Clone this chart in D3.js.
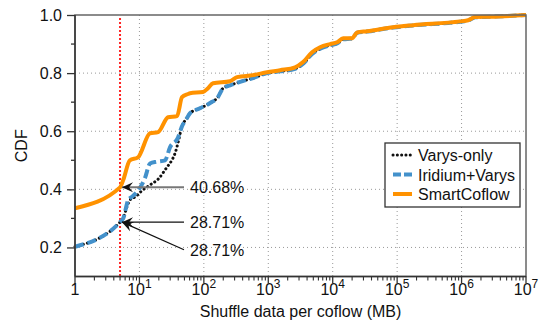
<!DOCTYPE html>
<html>
<head>
<meta charset="utf-8">
<script src="https://cdn.jsdelivr.net/npm/d3@7"></script>
<style>
  body { margin: 0; background: #fff; }
  text { font-family: "Liberation Sans", Arial, Helvetica, sans-serif; fill: #111; }
</style>
</head>
<body>
<svg class="chart" width="552" height="328"></svg>
<script>
// shuffle data per coflow (MB) vs CDF
var smartX = [1, 5, 5.6, 7.1, 9.5, 14.6, 19.5, 27.8, 38.4, 45.8, 56.9, 61, 97, 116, 139, 255, 328, 581, 957,
  1524, 2606, 3467, 4786, 6368, 9120, 11700, 14500, 20000, 23900, 34200, 86700, 177000, 951000, 1265000, 1626000, 2780000, 1e7];
var smartY = [0.335, 0.4068, 0.432, 0.50, 0.51, 0.593, 0.597, 0.648, 0.652, 0.717, 0.728, 0.731, 0.735, 0.748, 0.765, 0.772, 0.786, 0.793, 0.803,
  0.81, 0.82, 0.838, 0.872, 0.889, 0.90, 0.906, 0.92, 0.92, 0.94, 0.944, 0.958, 0.965, 0.978, 0.982, 0.993, 0.994, 1.0];

var iridiumX = [1, 5, 5.6, 6.7, 7.6, 9.6, 12.2, 14.6, 18.6, 25, 29.9, 39.7, 45.4, 54.2, 61, 87, 125, 166, 199, 255, 365, 581, 957,
  1524, 2606, 3467, 4786, 6368, 9120, 11700, 14500, 20000, 23900, 34200, 86700, 177000, 951000, 1265000, 1626000, 2780000, 1e7];
var iridiumY = [0.2025, 0.2871, 0.30, 0.363, 0.374, 0.397, 0.439, 0.489, 0.495, 0.50, 0.545, 0.578, 0.615, 0.644, 0.662, 0.679, 0.697, 0.718, 0.748, 0.758, 0.77, 0.783, 0.80,
  0.806, 0.815, 0.832, 0.866, 0.884, 0.896, 0.902, 0.916, 0.919, 0.939, 0.943, 0.957, 0.964, 0.977, 0.981, 0.992, 0.994, 1.0];

var varysX = [1, 5, 5.6, 6.4, 7.1, 8.6, 10.9, 14.6, 19.5, 26.5, 31.8, 35.7, 40.2, 45.4, 54.2, 61, 87, 125, 166, 199, 255, 365, 581, 957,
  1524, 2606, 3467, 4786, 6368, 9120, 11700, 14500, 20000, 23900, 34200, 86700, 177000, 951000, 1265000, 1626000, 2780000, 1e7];
var varysY = [0.2025, 0.2871, 0.30, 0.34, 0.363, 0.374, 0.395, 0.415, 0.435, 0.475, 0.50, 0.524, 0.565, 0.615, 0.644, 0.662, 0.679, 0.697, 0.718, 0.748, 0.758, 0.77, 0.783, 0.80,
  0.806, 0.815, 0.832, 0.866, 0.884, 0.896, 0.902, 0.916, 0.919, 0.939, 0.943, 0.957, 0.964, 0.977, 0.981, 0.992, 0.994, 1.0];

var yTicks = [0.2, 0.4, 0.6, 0.8, 1.0];
var yMinor = [0.3, 0.5, 0.7, 0.9];
var xDecades = [0, 1, 2, 3, 4, 5, 6, 7];
var cutoff = 5;
var notes = [
  {label: "40.68%", y: 0.4068, ty: 0.4068, color: "#777"},
  {label: "28.71%", y: 0.2871, ty: 0.2871, color: "#111"},
  {label: "28.71%", y: 0.2871, ty: 0.192, color: "#111"}
];
var legendNames = ["Varys-only", "Iridium+Varys", "SmartCoflow"];

var svg = d3.select(".chart");
var pl = 75, pr = 526, pt = 15, pb = 276.5;

var x = d3.scaleLog().domain([1, 1e7]).range([pl, pr]);
var y = d3.scaleLinear().domain([0.1, 1.0]).range([pb, pt]);

var defs = svg.append("defs");
defs.append("marker")
  .attr("id", "arrow")
  .attr("viewBox", "-12 -6 14 12")
  .attr("markerWidth", 14).attr("markerHeight", 12)
  .attr("refX", 0).attr("refY", 0)
  .attr("markerUnits", "userSpaceOnUse")
  .attr("orient", "auto")
  .append("path")
  .attr("d", "M0,0 L-11,-5 L-7,0 L-11,5 Z")
  .attr("fill", "#111");

// grid
var grid = svg.append("g").attr("stroke", "#999").attr("stroke-width", 1).attr("stroke-dasharray", "1,3");
grid.selectAll("line.gx").data(xDecades.slice(1, 7)).enter().append("line")
  .attr("x1", function(d) { return x(Math.pow(10, d)); })
  .attr("x2", function(d) { return x(Math.pow(10, d)); })
  .attr("y1", pt).attr("y2", pb);
grid.selectAll("line.gy").data(yTicks.slice(0, 4)).enter().append("line")
  .attr("x1", pl).attr("x2", pr)
  .attr("y1", function(d) { return y(d); })
  .attr("y2", function(d) { return y(d); });

// 5 MB cutoff
svg.append("line")
  .attr("x1", x(cutoff)).attr("x2", x(cutoff))
  .attr("y1", pt + 3).attr("y2", pb)
  .attr("stroke", "#f22").attr("stroke-width", 2).attr("stroke-dasharray", "2,2");

// curves
var line = d3.line()
  .x(function(d) { return x(d[0]); })
  .y(function(d) { return y(d[1]); })
  .curve(d3.curveMonotoneX);

svg.append("path")
  .datum(d3.zip(varysX, varysY))
  .attr("d", line).attr("fill", "none")
  .attr("stroke", "#111").attr("stroke-width", 3)
  .attr("stroke-linecap", "round").attr("stroke-dasharray", "0.1,4.2");

svg.append("path")
  .datum(d3.zip(iridiumX, iridiumY))
  .attr("d", line).attr("fill", "none")
  .attr("stroke", "#4391cb").attr("stroke-width", 4)
  .attr("stroke-dasharray", "9,4");

svg.append("path")
  .datum(d3.zip(smartX, smartY))
  .attr("d", line).attr("fill", "none")
  .attr("stroke", "#ff9200").attr("stroke-width", 4);

// annotations
notes.forEach(function(n) {
  svg.append("line")
    .attr("x1", 184).attr("y1", y(n.ty))
    .attr("x2", x(cutoff) + 2).attr("y2", y(n.y))
    .attr("stroke", n.color).attr("stroke-width", n.color == "#777" ? 2 : 1.3)
    .attr("marker-end", "url(#arrow)");
  svg.append("text")
    .attr("x", 190).attr("y", y(n.ty) + 6)
    .attr("font-size", 16)
    .text(n.label);
});

// frame
svg.append("rect")
  .attr("x", pl).attr("y", pt)
  .attr("width", pr - pl).attr("height", pb - pt)
  .attr("fill", "none").attr("stroke", "#666").attr("stroke-width", 1.5);
svg.append("line").attr("x1", pl).attr("x2", pl).attr("y1", pt).attr("y2", pb)
  .attr("stroke", "#333").attr("stroke-width", 1.5);
svg.append("line").attr("x1", pl).attr("x2", pr).attr("y1", pb).attr("y2", pb)
  .attr("stroke", "#333").attr("stroke-width", 1.5);

// y axis
var yAxis = svg.append("g").attr("transform", "translate(" + pl + ",0)")
  .call(d3.axisLeft(y).tickValues(yTicks).tickSize(8).tickPadding(5).tickFormat(d3.format(".1f")));
yAxis.select(".domain").remove();
yAxis.selectAll("line").attr("stroke", "#333").attr("stroke-width", 1.3);
yAxis.selectAll("text").attr("font-size", 16).attr("font-family", "Liberation Sans, Arial, sans-serif").attr("fill", "#111");
svg.append("g").selectAll("line").data(yMinor).enter().append("line")
  .attr("x1", pl - 4).attr("x2", pl)
  .attr("y1", function(d) { return y(d); }).attr("y2", function(d) { return y(d); })
  .attr("stroke", "#333").attr("stroke-width", 1.3);

// x axis: decade ticks + minor ticks
var minor = [];
xDecades.slice(0, 7).forEach(function(e) {
  for (var k = 2; k <= 9; k++) minor.push(k * Math.pow(10, e));
});
var xg = svg.append("g");
xg.selectAll("line.mi").data(minor).enter().append("line")
  .attr("x1", function(d) { return x(d); }).attr("x2", function(d) { return x(d); })
  .attr("y1", pb).attr("y2", pb + 4)
  .attr("stroke", "#333").attr("stroke-width", 1.1);
xg.selectAll("line.ma").data(xDecades).enter().append("line")
  .attr("x1", function(d) { return x(Math.pow(10, d)); }).attr("x2", function(d) { return x(Math.pow(10, d)); })
  .attr("y1", pb).attr("y2", pb + 7)
  .attr("stroke", "#333").attr("stroke-width", 1.3);
var xl = xg.selectAll("text").data(xDecades).enter().append("text")
  .attr("x", function(d) { return x(Math.pow(10, d)); })
  .attr("y", 295)
  .attr("text-anchor", "middle")
  .attr("font-size", 16);
xl.each(function(d) {
  var t = d3.select(this);
  if (d == 0) { t.text("1"); return; }
  t.append("tspan").text("10");
  t.append("tspan").attr("dy", -7).attr("font-size", 12).text(d);
});

svg.append("text")
  .attr("x", (pl + pr) / 2).attr("y", 317)
  .attr("text-anchor", "middle").attr("font-size", 16)
  .text("Shuffle data per coflow (MB)");
svg.append("text")
  .attr("transform", "translate(27," + ((pt + pb) / 2) + ") rotate(-90)")
  .attr("text-anchor", "middle").attr("font-size", 16)
  .text("CDF");

// legend
var lg = svg.append("g").attr("transform", "translate(385,143)");
lg.append("rect").attr("width", 135).attr("height", 64)
  .attr("fill", "#fff").attr("stroke", "#333").attr("stroke-width", 1.3);
var styles = [
  {stroke: "#111", w: 3, dash: "0.1,4.2", cap: "round"},
  {stroke: "#4391cb", w: 4, dash: "8,3", cap: "butt"},
  {stroke: "#ff9200", w: 4, dash: null, cap: "butt"}
];
legendNames.forEach(function(name, i) {
  var yy = 12 + i * 19.5;
  lg.append("line").attr("x1", 8).attr("x2", 27).attr("y1", yy).attr("y2", yy)
    .attr("stroke", styles[i].stroke).attr("stroke-width", styles[i].w)
    .attr("stroke-dasharray", styles[i].dash).attr("stroke-linecap", styles[i].cap);
  lg.append("text").attr("x", 33).attr("y", yy + 6).attr("font-size", 16).text(name);
});
</script>
</body>
</html>
